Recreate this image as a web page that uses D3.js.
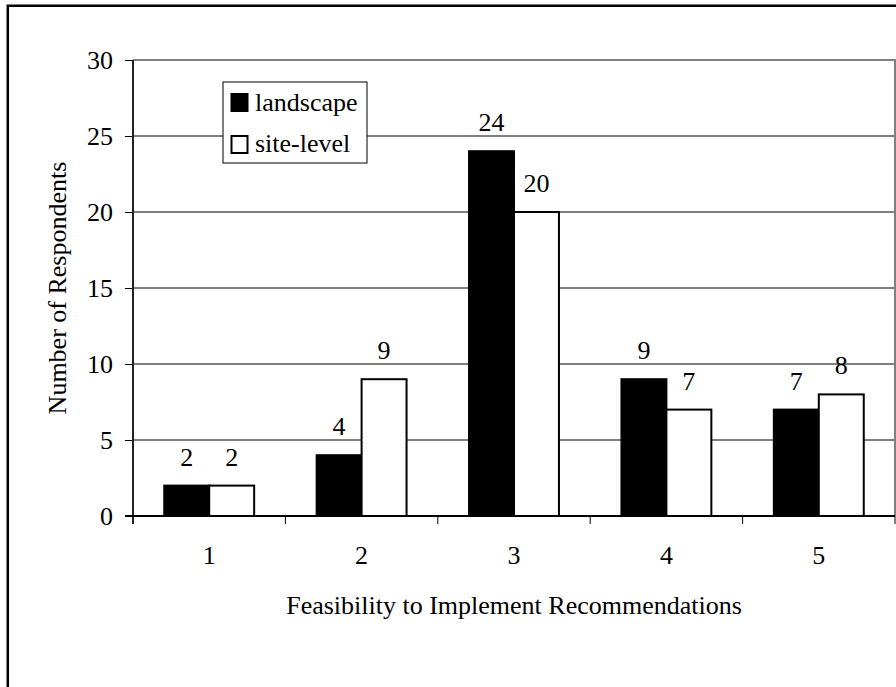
<!DOCTYPE html>
<html>
<head>
<meta charset="utf-8">
<script src="https://cdn.jsdelivr.net/npm/d3@7"></script>
<style>
  html, body { margin: 0; padding: 0; background: #fff; }
  svg { display: block; }
  text { font-family: "Liberation Serif", "Times New Roman", serif; fill: #000; }
</style>
</head>
<body>
<svg id="chart" width="896" height="687"></svg>
<script>
const categories = ["1", "2", "3", "4", "5"];
const seriesNames = ["landscape", "site-level"];
const landscape = [2, 4, 24, 9, 7];
const siteLevel = [2, 9, 20, 7, 8];
const yTicks = [0, 5, 10, 15, 20, 25, 30];
const xTitle = "Feasibility to Implement Recommendations";
const yTitle = "Number of Respondents";

const seriesValues = [landscape, siteLevel];
const fills = ["#000", "#fff"];
const fontSize = 26;

const svg = d3.select("#chart");
const plot = { left: 133, right: 895, top: 60, bottom: 516 };

// outer frame (extends past the picture on right/bottom)
svg.append("path")
  .attr("d", `M7.8,700 L7.8,5.7 L910,5.7`)
  .attr("fill", "none").attr("stroke", "#000").attr("stroke-width", 2.5);

const y = d3.scaleLinear().domain([0, 30]).range([plot.bottom, plot.top]);
const x = d3.scaleBand().domain(categories).range([plot.left, plot.right])
  .paddingInner(0.41).paddingOuter(0.205);
const xs = d3.scaleBand().domain(seriesNames).range([0, x.bandwidth()]);

// gridlines
svg.append("g").selectAll("line")
  .data(yTicks.filter(t => t > 0 && t < 30))
  .join("line")
  .attr("x1", plot.left).attr("x2", plot.right)
  .attr("y1", d => y(d)).attr("y2", d => y(d))
  .attr("stroke", "#000").attr("stroke-width", 1);

// top and right plot border (grey)
svg.append("path")
  .attr("d", `M${plot.left},${y(30)} L${plot.right},${y(30)} L${plot.right},${plot.bottom}`)
  .attr("fill", "none").attr("stroke", "#808080").attr("stroke-width", 2);

// Y axis
const yAxis = d3.axisLeft(y).tickValues(yTicks).tickSize(8).tickPadding(12)
  .tickFormat(d3.format("d"));
const gy = svg.append("g").attr("transform", `translate(${plot.left},0)`).call(yAxis);
gy.select(".domain").remove();
gy.selectAll(".tick line").attr("stroke", "#000").attr("stroke-width", 1);
gy.selectAll(".tick text").attr("font-size", fontSize)
  .attr("font-family", "Liberation Serif, Times New Roman, serif").attr("fill", "#000");

// X axis (ticks between categories)
const boundaries = d3.range(categories.length + 1);
const xPos = i => plot.left + i * x.step();
svg.append("g").selectAll("line").data(boundaries).join("line")
  .attr("x1", d => xPos(d)).attr("x2", d => xPos(d))
  .attr("y1", plot.bottom).attr("y2", plot.bottom + 8)
  .attr("stroke", "#000").attr("stroke-width", 1);

// bars
const groups = svg.append("g").selectAll("g")
  .data(categories).join("g")
  .attr("transform", d => `translate(${x(d)},0)`);

seriesNames.forEach((s, si) => {
  groups.append("rect")
    .attr("x", xs(s))
    .attr("y", (d, i) => y(seriesValues[si][i]))
    .attr("width", xs.bandwidth())
    .attr("height", (d, i) => y(0) - y(seriesValues[si][i]))
    .attr("fill", fills[si])
    .attr("stroke", "#000").attr("stroke-width", 2);
  groups.append("text")
    .attr("x", xs(s) + xs.bandwidth() / 2)
    .attr("y", (d, i) => y(seriesValues[si][i]) - 20)
    .attr("text-anchor", "middle").attr("font-size", fontSize)
    .text((d, i) => seriesValues[si][i]);
});

// axis lines
svg.append("line")
  .attr("x1", plot.left).attr("x2", plot.left)
  .attr("y1", plot.top).attr("y2", plot.bottom + 8)
  .attr("stroke", "#222").attr("stroke-width", 2);
svg.append("line")
  .attr("x1", plot.left - 8).attr("x2", plot.right)
  .attr("y1", plot.bottom).attr("y2", plot.bottom)
  .attr("stroke", "#000").attr("stroke-width", 2);

// x tick labels
svg.append("g").selectAll("text").data(categories).join("text")
  .attr("x", d => x(d) + x.bandwidth() / 2)
  .attr("y", 564)
  .attr("text-anchor", "middle").attr("font-size", fontSize)
  .text(d => d);

// axis titles
svg.append("text")
  .attr("x", (plot.left + plot.right) / 2).attr("y", 614)
  .attr("text-anchor", "middle").attr("font-size", fontSize)
  .text(xTitle);
svg.append("text")
  .attr("transform", `translate(66,${(plot.top + plot.bottom) / 2}) rotate(-90)`)
  .attr("text-anchor", "middle").attr("font-size", fontSize)
  .text(yTitle);

// legend
const lg = svg.append("g").attr("transform", "translate(223,82)");
lg.append("rect").attr("width", 144).attr("height", 81)
  .attr("fill", "#fff").attr("stroke", "#000").attr("stroke-width", 1);
seriesNames.forEach((s, i) => {
  lg.append("rect").attr("x", 8.5).attr("y", 12 + i * 42).attr("width", 16).attr("height", 17)
    .attr("fill", fills[i]).attr("stroke", "#000").attr("stroke-width", 2);
  lg.append("text").attr("x", 32).attr("y", 28.5 + i * 41.5)
    .attr("font-size", fontSize).text(s);
});
</script>
</body>
</html>
